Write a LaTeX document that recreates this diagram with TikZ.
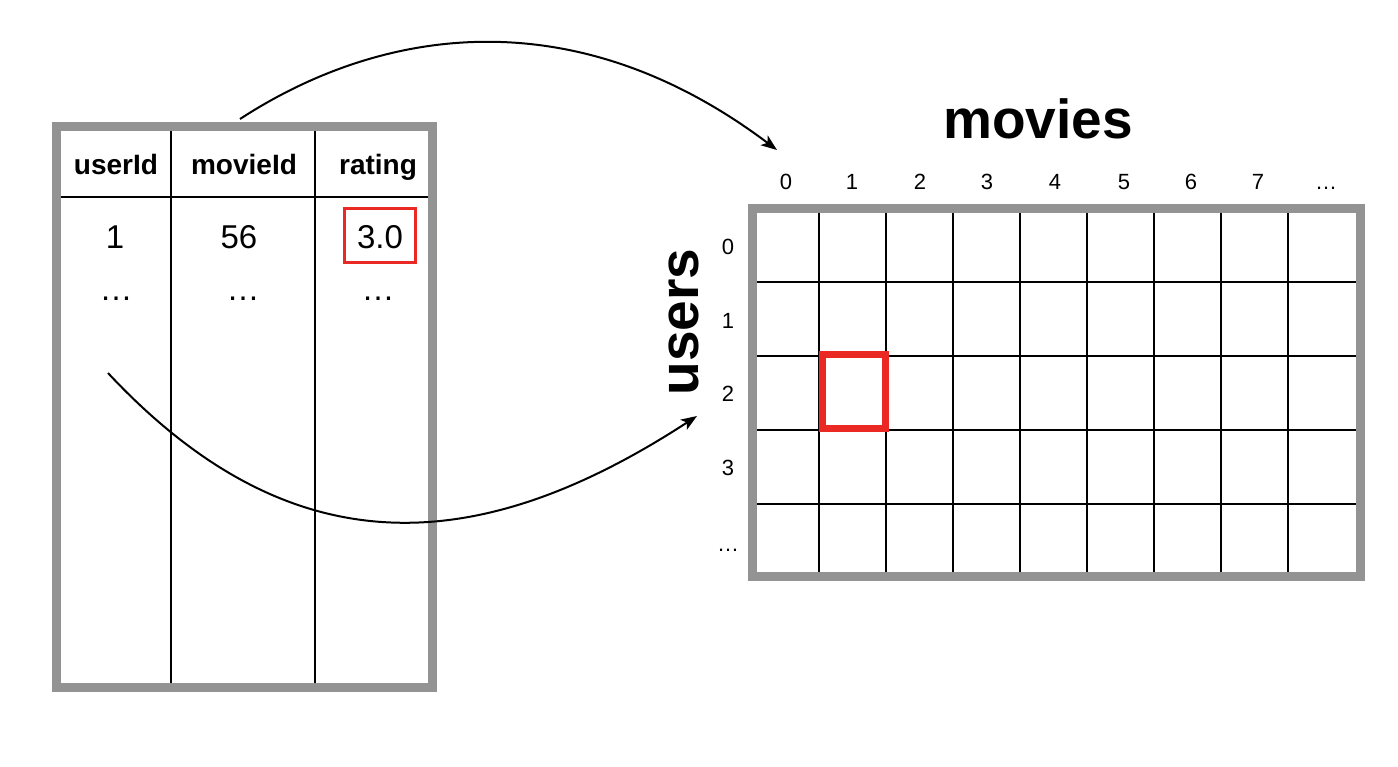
\documentclass[tikz,border=0pt]{standalone}
\usepackage{fontspec}
\setmainfont{Liberation Sans}
\usetikzlibrary{arrows.meta}
\definecolor{framegray}{RGB}{147,147,147}
\definecolor{hlred}{RGB}{235,41,36}
\begin{document}
\begin{tikzpicture}[x=1pt,y=-1pt,
  frame/.style={draw=framegray,line width=9pt},
  gridline/.style={draw=black,line width=2.6pt},
  hdr/.style={anchor=base,font=\fontsize{28}{30}\selectfont\bfseries},
  val/.style={anchor=base,font=\fontsize{33}{36}\selectfont},
  idx/.style={anchor=base,font=\fontsize{22}{24}\selectfont},
  title/.style={anchor=base,font=\fontsize{55}{60}\selectfont\bfseries},
  conn/.style={line width=2pt,-{Stealth[length=16pt,width=12pt,inset=4pt]}}]
\useasboundingbox (0,0) rectangle (1398,766);
% ---------- left table ----------
\draw[gridline] (171,131) -- (171,683);
\draw[gridline] (315,131) -- (315,683);
\draw[gridline] (61,197) -- (428,197);
\node[frame,minimum width=376pt,minimum height=561pt,inner sep=0pt] (table) at (244,406.5) {};
\node[hdr] (h1) at (116,174) {userId};
\node[hdr] (h2) at (244,174) {movieId};
\node[hdr] (h3) at (378,174) {rating};
\node[val] (v1) at (115,248) {1};
\node[val] (v2) at (239,248) {56};
\node[val] (v3) at (380,248) {3.0};
\node[val] (d1) at (116,300) {…};
\node[val] (d2) at (243,300) {…};
\node[val] (d3) at (378,300) {…};
\node[draw=hlred,line width=3pt,minimum width=71pt,minimum height=54pt,inner sep=0pt] (hlcell) at (380,235.5) {};
% ---------- right matrix ----------
\foreach \xx in {819,886,953,1020,1087,1154,1221,1288}
  \draw[gridline] (\xx,212) -- (\xx,572);
\foreach \yy in {282,356,430,504}
  \draw[gridline] (756,\yy) -- (1356,\yy);
\node[frame,minimum width=608pt,minimum height=368pt,inner sep=0pt] (matrix) at (1056,392) {};
\node[draw=hlred,line width=7pt,minimum width=63pt,minimum height=74pt,inner sep=0pt] (hlmat) at (853.5,391.5) {};
\foreach \lab/\xx in {0/786,1/852,2/920,3/987,4/1055,5/1124,6/1191,7/1258,…/1326}
  \node[idx] (c\xx) at (\xx,189) {\lab};
\foreach \lab/\yy in {0/254,1/328,2/401,3/475,…/551}
  \node[idx] (r\yy) at (728,\yy) {\lab};
\node[title] (movies) at (1038,138) {movies};
\node[title,rotate=90] (users) at (698,322) {users};
% ---------- arrows ----------
\coordinate (s1) at (240,119);
\coordinate (e1) at (777,150);
\coordinate (s2) at (108,373);
\coordinate (e2) at (697,416);
\draw[conn] (s1) .. controls (383,26) and (575,-2) .. (e1);
\draw[conn] (s2) .. controls (292,570) and (479,558) .. (e2);
\end{tikzpicture}
\end{document}
